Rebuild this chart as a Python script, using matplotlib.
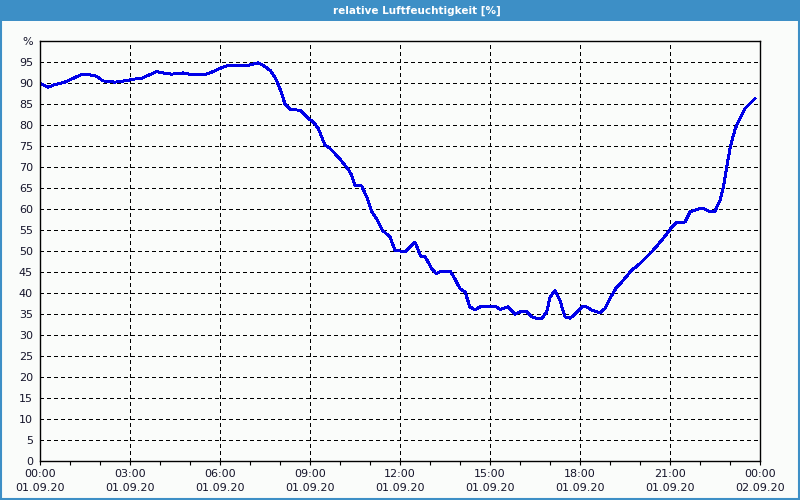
import matplotlib
matplotlib.use('Agg')
import matplotlib.pyplot as plt
from matplotlib.patches import Rectangle

# Data (hours since 01.09.20 00:00, relative humidity %)
hours = [0.02, 0.27, 0.49, 0.82, 1.04, 1.38, 1.54, 1.88, 2.10, 2.49, 2.82, 3.10,
         3.38, 3.60, 3.88, 4.10, 4.38, 4.77, 4.99, 5.38, 5.60, 5.82, 6.04, 6.27,
         6.54, 6.83, 7.06, 7.28, 7.44, 7.67, 7.83, 7.98, 8.09, 8.17, 8.36, 8.67,
         8.89, 9.14, 9.28, 9.50, 9.67, 9.94, 10.28, 10.39, 10.50, 10.72, 10.89,
         11.06, 11.22, 11.42, 11.67, 11.83, 12.17, 12.50, 12.69, 12.83, 13.06,
         13.20, 13.39, 13.67, 13.83, 14.00, 14.17, 14.33, 14.50, 14.67, 15.22,
         15.33, 15.61, 15.83, 16.06, 16.22, 16.44, 16.72, 16.89, 17.00, 17.17,
         17.33, 17.50, 17.67, 17.83, 18.06, 18.22, 18.39, 18.67, 18.83, 19.00,
         19.22, 19.44, 19.72, 20.00, 20.39, 20.72, 21.02, 21.22, 21.50, 21.67,
         21.89, 22.11, 22.28, 22.50, 22.67, 22.78, 22.89, 23.00, 23.17, 23.33,
         23.50, 23.83]
humidity = [89.9, 89.0, 89.6, 90.2, 90.9, 92.0, 92.1, 91.6, 90.5, 90.2, 90.5, 90.9,
            91.1, 91.8, 92.7, 92.4, 92.1, 92.4, 92.1, 91.9, 92.2, 92.9, 93.6, 94.2,
            94.1, 94.1, 94.4, 94.8, 94.2, 93.0, 91.4, 89.0, 86.7, 84.9, 83.7, 83.5,
            81.9, 80.5, 79.1, 75.2, 74.4, 72.4, 69.4, 68.0, 65.6, 65.5, 62.9,
            59.3, 57.7, 54.9, 53.3, 50.2, 49.8, 52.1, 48.8, 48.7, 45.8,
            44.6, 45.2, 45.2, 43.4, 41.0, 40.2, 36.7, 36.0, 36.7, 36.7,
            36.1, 36.7, 34.9, 35.7, 35.6, 34.1, 33.9, 35.5, 39.0, 40.6,
            38.3, 34.3, 34.0, 34.9, 36.7, 36.7, 35.9, 35.3, 36.3, 38.7,
            41.4, 43.0, 45.4, 47.0, 49.8, 52.5, 55.3, 56.8, 56.9, 59.3,
            59.9, 60.2, 59.5, 59.5, 62.1, 65.2, 70.0, 74.4, 79.1, 81.5,
            83.9, 86.3]

x_ticks = [0, 3, 6, 9, 12, 15, 18, 21, 24]
x_labels = ['00:00\n01.09.20', '03:00\n01.09.20', '06:00\n01.09.20', '09:00\n01.09.20',
            '12:00\n01.09.20', '15:00\n01.09.20', '18:00\n01.09.20', '21:00\n01.09.20',
            '00:00\n02.09.20']
y_ticks = list(range(0, 101, 5))
y_labels = [str(v) for v in range(0, 100, 5)] + ['%']

title = 'relative Luftfeuchtigkeit [%]'

plt.rcParams['font.family'] = ['DejaVu Sans']
bg = '#fafcfa'
frame_blue = '#3d8fc6'
txt = '#14142a'

fig = plt.figure(figsize=(8, 5), dpi=100, facecolor=bg)

# title bar and window frame
fig.patches.append(Rectangle((0, 1 - 21 / 500), 1, 21 / 500, transform=fig.transFigure,
                             facecolor=frame_blue, edgecolor='none'))
fig.patches.append(Rectangle((0.5 / 800, 1 / 500), 1 - 1.5 / 800, 1 - 1.5 / 500,
                             transform=fig.transFigure, facecolor='none',
                             edgecolor=frame_blue, linewidth=1.5))
fig.text(417 / 800, 1 - 10.5 / 500, title, color='white', fontsize=7.5, fontweight='bold',
         ha='center', va='center')

ax = fig.add_axes([40 / 800, 1 - 461 / 500, 720 / 800, 420 / 500])
ax.set_facecolor(bg)
ax.plot(hours, humidity, color='#0000e8', linewidth=1.4, antialiased=False)

ax.set_xlim(0, 24)
ax.set_ylim(0, 100)
ax.set_xticks(x_ticks)
ax.set_xticklabels(x_labels)
ax.set_xticks(range(0, 25), minor=True)
ax.set_yticks(y_ticks)
ax.set_yticklabels(y_labels)

ax.tick_params(axis='x', which='both', direction='out', length=3, width=0.8,
               pad=3, labelsize=8, labelcolor=txt, color='black')
ax.tick_params(axis='y', length=0, pad=5, labelsize=8, labelcolor=txt)
for lab in ax.get_xticklabels():
    lab.set_linespacing(1.5)

ax.grid(True, which='major', color='black', linestyle=(0, (3, 3)), linewidth=0.72,
        antialiased=False)
for s in ax.spines.values():
    s.set_color('black')
    s.set_linewidth(1.0)

fig.savefig('out.png', dpi=100, facecolor=bg)
